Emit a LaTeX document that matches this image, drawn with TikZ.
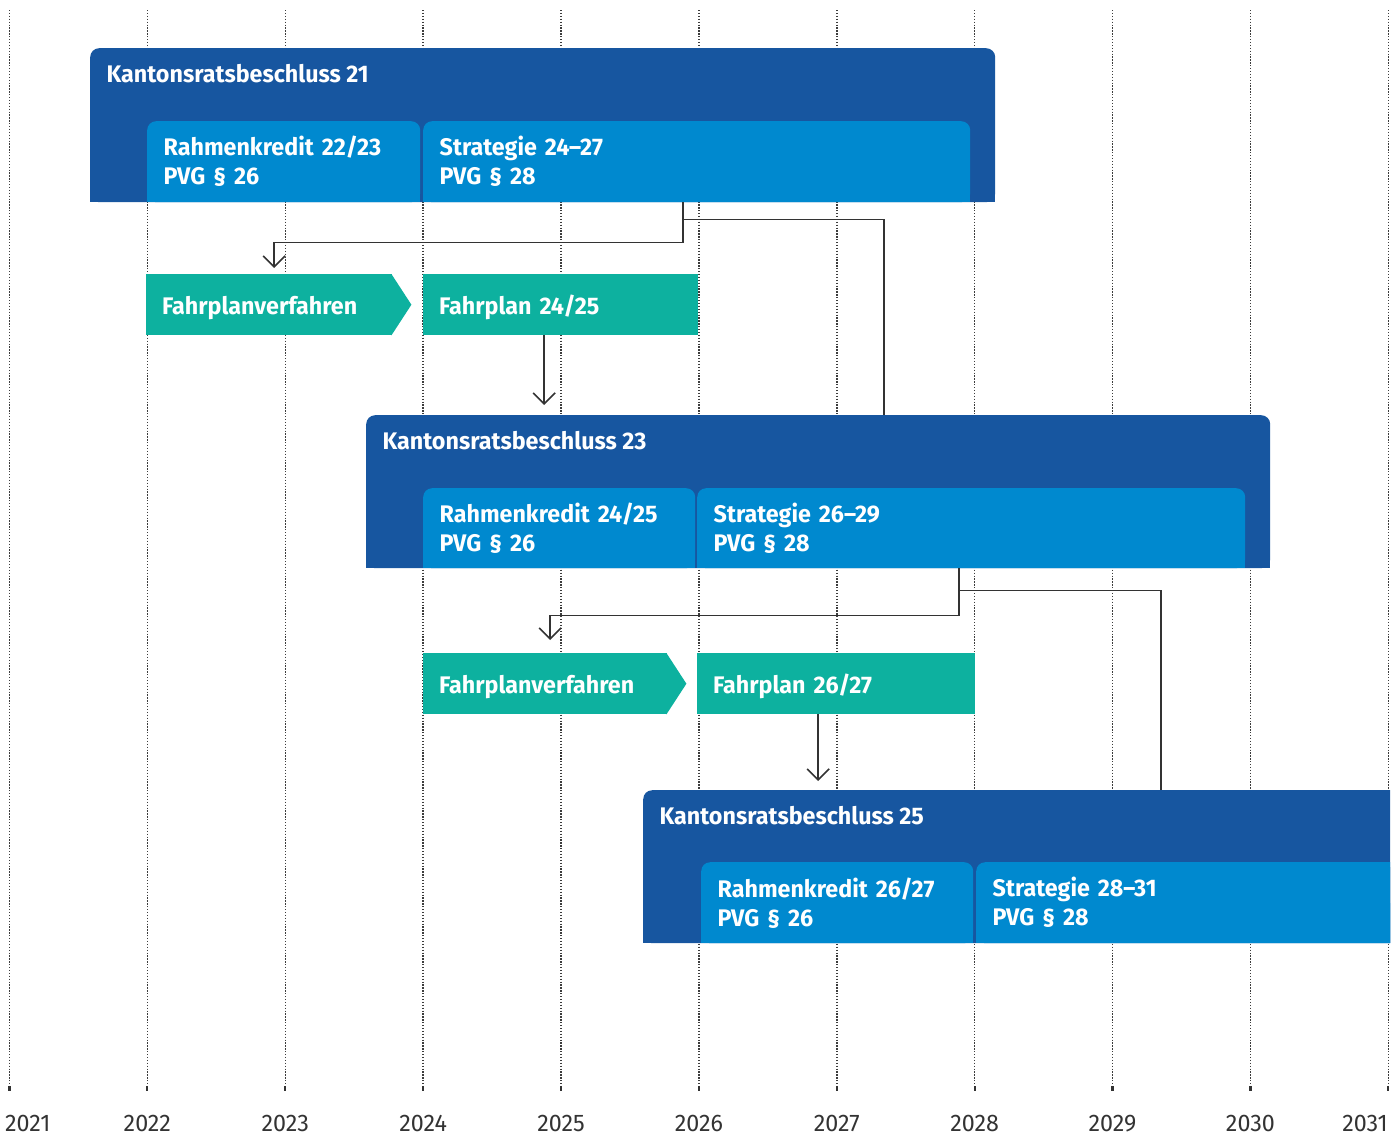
\documentclass[tikz,border=0pt]{standalone}
\usepackage{fontspec}
\setmainfont{Fira Sans}[FakeStretch=0.97]
\usetikzlibrary{arrows.meta,positioning}
\definecolor{krbblue}{RGB}{23,86,160}
\definecolor{stblue}{RGB}{0,137,207}
\definecolor{fpgreen}{RGB}{13,177,159}
\definecolor{linegray}{RGB}{51,51,51}
\definecolor{gridgray}{RGB}{60,60,60}
\tikzset{
    tab/.style = {inner sep=0pt, anchor=north west, path picture={
        \fill[#1, rounded corners=9pt] (path picture bounding box.north west) rectangle (path picture bounding box.south east);
        \fill[#1] (path picture bounding box.west) rectangle (path picture bounding box.south east);}},
    box-font/.style = {text=white, font=\fontsize{24}{29}\selectfont\bfseries},
    krb-title/.style = {box-font, inner sep=0pt, anchor=base west},
    sub-box/.style = {tab=stblue, box-font, align=left, inner xsep=16.5pt, inner ysep=0pt},
    fp-box/.style = {fill=fpgreen, box-font, align=left, anchor=north west, inner xsep=16pt, inner ysep=0pt, minimum height=61pt, text height=19pt, text depth=0pt},
    year-line/.style = {gridgray, line width=1.5pt, dash pattern=on 1.3pt off 1.6pt},
    year-tick/.style = {linegray, line width=2.2pt},
    year-label/.style = {text=linegray, font=\fontsize{24}{29}\selectfont, inner sep=0pt, anchor=base},
    link/.style = {linegray, line width=1.6pt},
    flow/.style = {link, -{Straight Barb[length=11pt,width=22pt]}},
}
\begin{document}
\begin{tikzpicture}[x=1pt, y=-1pt]
\useasboundingbox (0,0) rectangle (1392,1135);
\clip (0,0) rectangle (1390,1135);

% years
\foreach \yr in {2021,...,2031} {
    \draw[year-line] ({9.5+137.88*(\yr-2021)},10) -- ++(0,1077);
    \draw[year-tick] ({9.5+137.88*(\yr-2021)},1086) -- ++(0,5);
}
\foreach \yr in {2022,...,2030}
    \node[year-label] (y\yr) at ({9.5+137.88*(\yr-2021)},1131) {\yr};
\node[year-label, anchor=base west] (y2021) at (5,1131) {2021};
\node[year-label, anchor=base east] (y2031) at (1388,1131) {2031};

% Kantonsratsbeschluss 21
\node[tab=krbblue, minimum width=905pt, minimum height=154pt] (krbA) at (90,48) {};
\node[krb-title] (krbA-title) at ([xshift=16.5pt,yshift=-34pt]krbA.north west) {Kantonsratsbeschluss 21};
\node[sub-box, minimum width=273pt, text width=240pt, minimum height=81pt] (rkA) at (147,121) {Rahmenkredit 22/23\\PVG § 26};
\node[sub-box, minimum width=547pt, text width=514pt, minimum height=81pt] (stA) at (423,121) {Strategie 24--27\\PVG § 28};

\node[fp-box, minimum width=246pt, text width=214pt] (fvA) at (146,274) {Fahrplanverfahren};
\fill[fpgreen] ([xshift=-1pt]fvA.north east) -- ([xshift=19pt]fvA.east) -- ([xshift=-1pt]fvA.south east) -- cycle;
\node[fp-box, minimum width=275pt, text width=243pt] (fpA) at (423,274) {Fahrplan 24/25};

% Kantonsratsbeschluss 23
\node[tab=krbblue, minimum width=904pt, minimum height=153pt] (krbB) at (366,415) {};
\node[krb-title] (krbB-title) at ([xshift=16.5pt,yshift=-34pt]krbB.north west) {Kantonsratsbeschluss 23};
\node[sub-box, minimum width=272pt, text width=239pt, minimum height=80pt] (rkB) at (423,488) {Rahmenkredit 24/25\\PVG § 26};
\node[sub-box, minimum width=548pt, text width=515pt, minimum height=80pt] (stB) at (697,488) {Strategie 26--29\\PVG § 28};

\node[fp-box, minimum width=244pt, text width=212pt] (fvB) at (423,653) {Fahrplanverfahren};
\fill[fpgreen] ([xshift=-1pt]fvB.north east) -- ([xshift=19pt]fvB.east) -- ([xshift=-1pt]fvB.south east) -- cycle;
\node[fp-box, minimum width=278pt, text width=246pt] (fpB) at (697,653) {Fahrplan 26/27};

% Kantonsratsbeschluss 25
\node[tab=krbblue, minimum width=770pt, minimum height=153pt] (krbC) at (643,790) {};
\node[krb-title] (krbC-title) at ([xshift=16.5pt,yshift=-34pt]krbC.north west) {Kantonsratsbeschluss 25};
\node[sub-box, minimum width=272pt, text width=239pt, minimum height=81pt] (rkC) at (701,862) {Rahmenkredit 26/27\\PVG § 26};
\node[sub-box, minimum width=437pt, text width=404pt, minimum height=81pt] (stC) at (976,862) {Strategie 28--31\\PVG § 28};

% connectors
\draw[flow, shorten >=6pt] ([xshift=-13.8pt]stA.south) -- ++(0,40) -| ([xshift=5pt]fvA.north);
\draw[link] ([xshift=-13.8pt,yshift=-17pt]stA.south) -| ([xshift=66pt]krbB.north);
\draw[flow, shorten >=10pt] ([xshift=-16.5pt]fpA.south) -- ([xshift=-16.5pt]fpA.south |- krbB.north);
\draw[flow, shorten >=13pt] ([xshift=-12pt]stB.south) -- ++(0,47) -| ([xshift=5pt]fvB.north);
\draw[link] ([xshift=-12pt,yshift=-22pt]stB.south) -| ([xshift=133pt]krbC.north);
\draw[flow, shorten >=9pt] ([xshift=-18pt]fpB.south) -- ([xshift=-18pt]fpB.south |- krbC.north);
\end{tikzpicture}
\end{document}
